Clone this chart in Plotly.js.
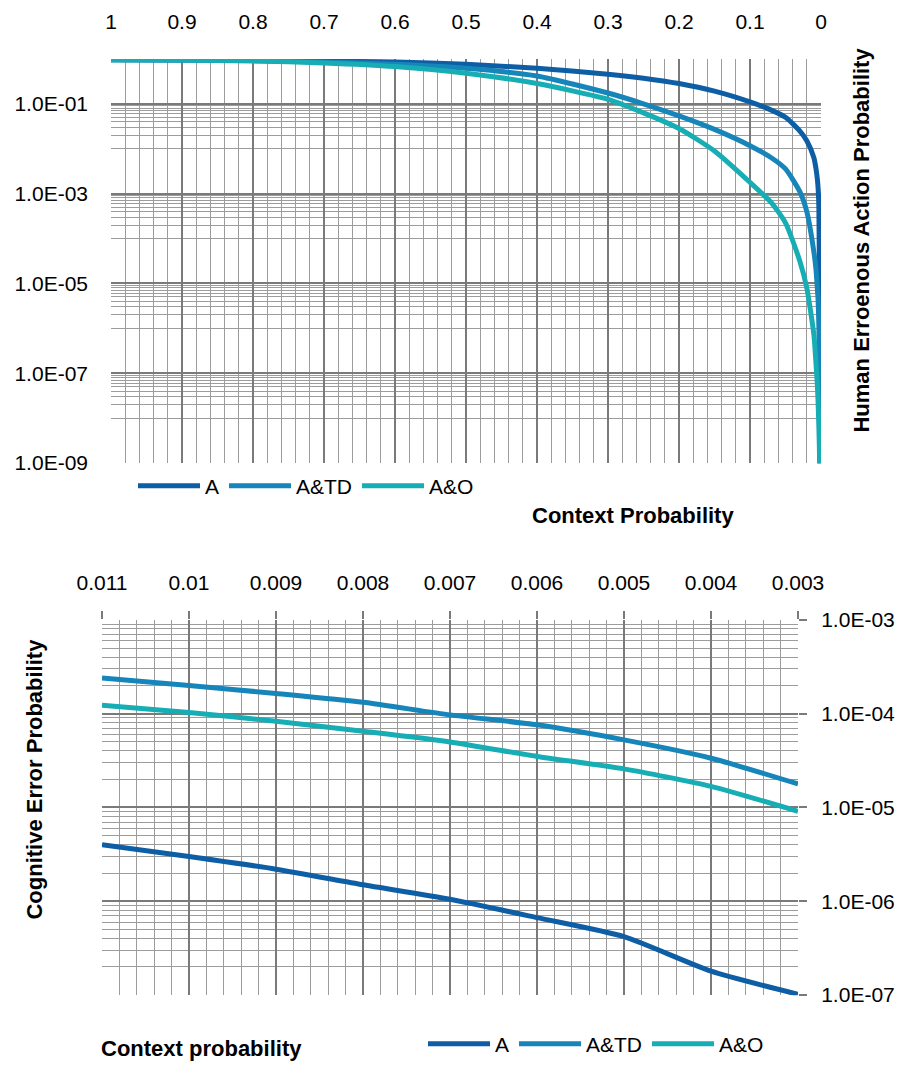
<!DOCTYPE html>
<html>
<head>
<meta charset="utf-8">
<script src="https://cdn.plot.ly/plotly-3.0.1.min.js"></script>
<style>html,body{margin:0;padding:0;background:#fff;}#chart{width:909px;height:1065px;}</style>
</head>
<body>
<div id="chart"></div>
<script>
// ---- Top chart data ----
const topX = [1, 0.9, 0.8, 0.7, 0.6, 0.5, 0.4, 0.3, 0.25, 0.2, 0.15, 0.1, 0.07, 0.05, 0.03, 0.02, 0.01, 0.007, 0.005, 0.004, 0.003, 0.002, 0.001];
const topA   = [0.96, 0.95, 0.93, 0.89, 0.851, 0.759, 0.617, 0.457, 0.372, 0.282, 0.191, 0.11, 0.0724, 0.0501, 0.0251, 0.0151, 0.0063, 0.00355, 0.002, 0.00126, 5e-4, 3.2e-6, 1e-12];
const topATD = [0.96, 0.945, 0.915, 0.851, 0.759, 0.617, 0.417, 0.174, 0.1, 0.0537, 0.0269, 0.0117, 0.0063, 0.00355, 0.00112, 3.98e-4, 5e-5, 2e-5, 7.1e-6, 4e-6, 1.1e-6, 3.2e-8, 1e-11];
const topAO  = [0.96, 0.94, 0.9, 0.813, 0.676, 0.479, 0.282, 0.126, 0.063, 0.0282, 0.0089, 0.00178, 6.3e-4, 2.24e-4, 3.2e-5, 7.9e-6, 7.1e-7, 1.6e-7, 5e-8, 2e-8, 6.3e-9, 1.26e-9, 1e-13];
const topXTicks = [1, 0.9, 0.8, 0.7, 0.6, 0.5, 0.4, 0.3, 0.2, 0.1, 0];
const topXTickText = ['1', '0.9', '0.8', '0.7', '0.6', '0.5', '0.4', '0.3', '0.2', '0.1', '0'];
const topYTicks = [1e-1, 1e-3, 1e-5, 1e-7, 1e-9];
const topYTickText = ['1.0E-01', '1.0E-03', '1.0E-05', '1.0E-07', '1.0E-09'];

// ---- Bottom chart data ----
const botX = [0.011, 0.01, 0.009, 0.008, 0.007, 0.006, 0.005, 0.004, 0.003];
const botA   = [4.0e-6, 3.0e-6, 2.2e-6, 1.5e-6, 1.05e-6, 6.7e-7, 4.2e-7, 1.8e-7, 1.02e-7];
const botATD = [2.4e-4, 2.0e-4, 1.64e-4, 1.32e-4, 9.7e-5, 7.6e-5, 5.25e-5, 3.35e-5, 1.78e-5];
const botAO  = [1.23e-4, 1.03e-4, 8.3e-5, 6.5e-5, 5.0e-5, 3.5e-5, 2.58e-5, 1.68e-5, 9.1e-6];
const botXTicks = [0.011, 0.01, 0.009, 0.008, 0.007, 0.006, 0.005, 0.004, 0.003];
const botXTickText = ['0.011', '0.01', '0.009', '0.008', '0.007', '0.006', '0.005', '0.004', '0.003'];
const botYTicks = [1e-3, 1e-4, 1e-5, 1e-6, 1e-7];
const botYTickText = ['1.0E-03', '1.0E-04', '1.0E-05', '1.0E-06', '1.0E-07'];

const seriesNames = ['A', 'A&TD', 'A&O'];
const colors = ['#0e5ea6', '#1585ba', '#17adb5'];

// grid helpers (axis structure), minor positions exclude the major ones
const topXMinor = []; for (let i = 0; i <= 50; i++) if (i % 5 !== 0) topXMinor.push(+(i * 0.02).toFixed(2));
const topYMinor = [];
for (let e = -8; e <= 0; e += 2) for (let k = 1; k <= 9; k++) { const v = k * Math.pow(10, e); if (v <= 1.0001) topYMinor.push(v); }
const botXMinor = []; for (let i = 15; i <= 55; i++) if (i % 5 !== 0) botXMinor.push(+(i * 0.0002).toFixed(4));
const botYMinor = [];
for (let e = -7; e <= -4; e++) for (let k = 2; k <= 9; k++) botYMinor.push(k * Math.pow(10, e));

const W = 909, H = 1065;
const px = v => v / W, py = v => 1 - v / H;
const FONT = '"Liberation Sans", Arial, sans-serif';
const GRID_MAJ = '#7a7a7a', GRID_MIN = '#9c9c9c';

const topSeries = [topA, topATD, topAO];
const botSeries = [botA, botATD, botAO];
const traces = [];
topSeries.forEach((s, i) => traces.push({
  x: topX, y: s, type: 'scatter', mode: 'lines', name: seriesNames[i],
  xaxis: 'x', yaxis: 'y', legend: 'legend',
  line: {color: colors[i], width: 5, shape: 'spline', smoothing: 0.6}
}));
botSeries.forEach((s, i) => traces.push({
  x: botX, y: s, type: 'scatter', mode: 'lines', name: seriesNames[i],
  xaxis: 'x2', yaxis: 'y3', legend: 'legend2',
  line: {color: colors[i], width: 5, shape: 'spline', smoothing: 0.6}
}));

const tickFont = {family: FONT, size: 21, color: '#000'};
const titleFont = {family: FONT, size: 22, color: '#000'};
const layout = {
  width: W, height: H,
  margin: {l: 0, r: 0, t: 0, b: 0},
  paper_bgcolor: '#fff', plot_bgcolor: '#fff',
  font: {family: FONT, size: 21, color: '#000'},
  xaxis: {
    domain: [px(111), px(821)], anchor: 'y', side: 'top', range: [1, 0],
    tickmode: 'array', tickvals: topXTicks, ticktext: topXTickText, tickfont: tickFont,
    ticks: '', ticklabelstandoff: 25,
    showgrid: true, gridcolor: GRID_MAJ, gridwidth: 2, zeroline: false, showline: false,
    minor: {tickmode: 'array', tickvals: topXMinor, showgrid: true, gridcolor: GRID_MIN, gridwidth: 1, ticks: ''}
  },
  yaxis: {
    domain: [py(464), py(59)], anchor: 'x', type: 'log', range: [-9, 0],
    tickmode: 'array', tickvals: topYTicks, ticktext: topYTickText, tickfont: tickFont,
    ticks: '', ticklabelstandoff: 22,
    showgrid: true, gridcolor: GRID_MAJ, gridwidth: 2, zeroline: false, showline: false,
    minor: {tickmode: 'array', tickvals: topYMinor, showgrid: true, gridcolor: GRID_MIN, gridwidth: 1, ticks: ''}
  },
  yaxis2: {
    overlaying: 'y', anchor: 'x', side: 'right', type: 'log', range: [-9, 0],
    tickmode: 'array', tickvals: topYTicks, showticklabels: false,
    ticks: 'outside', ticklen: 8, tickwidth: 2, tickcolor: GRID_MAJ,
    showgrid: false, zeroline: false, showline: false
  },
  xaxis2: {
    domain: [px(102), px(798)], anchor: 'y3', side: 'top', range: [0.011, 0.003],
    tickmode: 'array', tickvals: botXTicks, ticktext: botXTickText, tickfont: tickFont,
    ticks: 'outside', ticklen: 8, tickwidth: 2, tickcolor: GRID_MAJ, ticklabelstandoff: 12,
    showgrid: true, gridcolor: GRID_MAJ, gridwidth: 2, zeroline: false, showline: false,
    minor: {tickmode: 'array', tickvals: botXMinor, showgrid: true, gridcolor: GRID_MIN, gridwidth: 1, ticks: ''}
  },
  yaxis3: {
    domain: [py(997), py(621)], anchor: 'x2', side: 'right', type: 'log', range: [-7, -3],
    tickmode: 'array', tickvals: botYTicks, ticktext: botYTickText, tickfont: tickFont,
    ticks: 'outside', ticklen: 8, tickwidth: 2, tickcolor: GRID_MAJ, ticklabelstandoff: 10,
    showgrid: true, gridcolor: GRID_MAJ, gridwidth: 2, zeroline: false, showline: false,
    minor: {tickmode: 'array', tickvals: botYMinor, showgrid: true, gridcolor: GRID_MIN, gridwidth: 1, ticks: ''}
  },
  legend: {
    orientation: 'h', x: px(133), xanchor: 'left', y: py(487), yanchor: 'middle',
    font: tickFont, bgcolor: 'rgba(0,0,0,0)', itemwidth: 62, tracegroupgap: 0
  },
  legend2: {
    orientation: 'h', x: px(423), xanchor: 'left', y: py(1046), yanchor: 'middle',
    font: tickFont, bgcolor: 'rgba(0,0,0,0)', itemwidth: 62, tracegroupgap: 0
  },
  showlegend: true,
  annotations: [
    {text: '<b>Context Probability</b>', xref: 'paper', yref: 'paper', x: px(633), y: py(516),
     xanchor: 'center', yanchor: 'middle', showarrow: false, font: titleFont},
    {text: '<b>Human Erroenous Action Probability</b>', xref: 'paper', yref: 'paper', x: px(862), y: py(241),
     xanchor: 'center', yanchor: 'middle', showarrow: false, textangle: -90, font: titleFont},
    {text: '<b>Cognitive Error Probability</b>', xref: 'paper', yref: 'paper', x: px(35), y: py(781),
     xanchor: 'center', yanchor: 'middle', showarrow: false, textangle: -90, font: titleFont},
    {text: '<b>Context probability</b>', xref: 'paper', yref: 'paper', x: px(201), y: py(1050),
     xanchor: 'center', yanchor: 'middle', showarrow: false, font: titleFont}
  ]
};

Plotly.newPlot('chart', traces, layout, {staticPlot: true, displayModeBar: false});
</script>
</body>
</html>
